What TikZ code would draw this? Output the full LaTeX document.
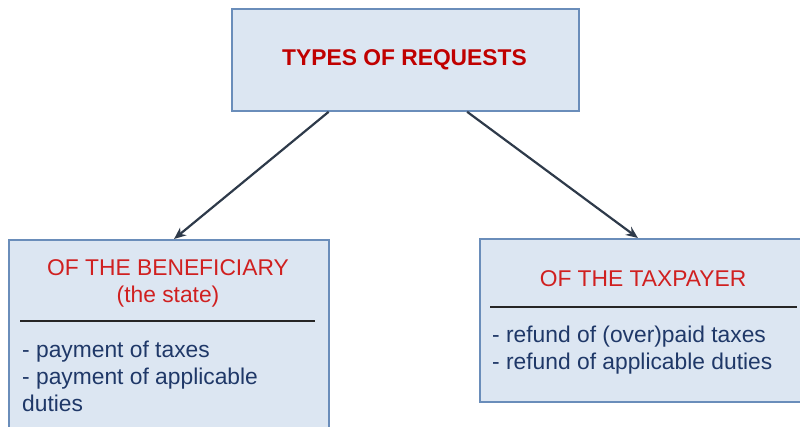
\documentclass[tikz,border=0pt]{standalone}
\usepackage{fontspec}
\setmainfont{Liberation Sans}
\usetikzlibrary{arrows.meta,calc}
\definecolor{boxfill}{HTML}{DCE6F2}
\definecolor{boxline}{HTML}{6A8DBA}
\definecolor{headred}{HTML}{C00000}
\definecolor{subred}{HTML}{D02020}
\definecolor{bodyblue}{HTML}{1F3868}
\definecolor{arrowgray}{HTML}{2E3A4A}
\tikzset{
  panel/.style={draw=boxline, fill=boxfill, line width=1.8pt, rectangle, inner sep=0pt, anchor=north west},
  headtext/.style={font=\fontsize{22.8}{27}\selectfont, text=subred, align=center, inner sep=0pt},
  listtext/.style={font=\fontsize{22.8}{27}\selectfont, text=bodyblue, align=left, inner sep=0pt, anchor=north west},
  divider/.style={line width=2.5pt, draw=black!85},
  link/.style={draw=arrowgray, line width=2.2pt, -{Stealth[length=12pt,width=10pt]}}
}
\begin{document}
\begin{tikzpicture}[x=1pt,y=-1pt]
  \useasboundingbox (0,0) rectangle (800,426);
  \clip (0,0) rectangle (800,426);

  % top box
  \node[panel, minimum width=347pt, minimum height=102pt] (top) at (231,8) {};
  \node[font=\bfseries\fontsize{22.8}{27}\selectfont, text=headred, inner sep=0pt] (toptitle) at (404.5,60) {TYPES OF REQUESTS};

  % left box: the beneficiary
  \node[panel, minimum width=320pt, minimum height=210pt] (left) at (8,239) {};
  \node[headtext] (lefttitle) at (168,283) {OF THE BENEFICIARY\\(the state)};
  \coordinate (lrA) at (20,321);
  \coordinate (lrB) at (315,321);
  \draw[divider] (lrA) -- (lrB);
  \node[listtext] (leftlist) at (22,341) {- payment of taxes\\- payment of applicable\\duties};

  % right box: the taxpayer
  \node[panel, minimum width=340pt, minimum height=163pt] (right) at (479,238) {};
  \node[headtext] (righttitle) at (643,279) {OF THE TAXPAYER};
  \coordinate (rrA) at (490,307);
  \coordinate (rrB) at (797,307);
  \draw[divider] (rrA) -- (rrB);
  \node[listtext] (rightlist) at (492,326) {- refund of (over)paid taxes\\- refund of applicable duties};

  % connectors
  \draw[link] ($(top.south west)!0.28!(top.south east)$) -- ($(left.north west)!0.516!(left.north east)$);
  \draw[link] ($(top.south west)!0.677!(top.south east)$) -- ($(right.north west)!0.465!(right.north east)$);
\end{tikzpicture}
\end{document}
